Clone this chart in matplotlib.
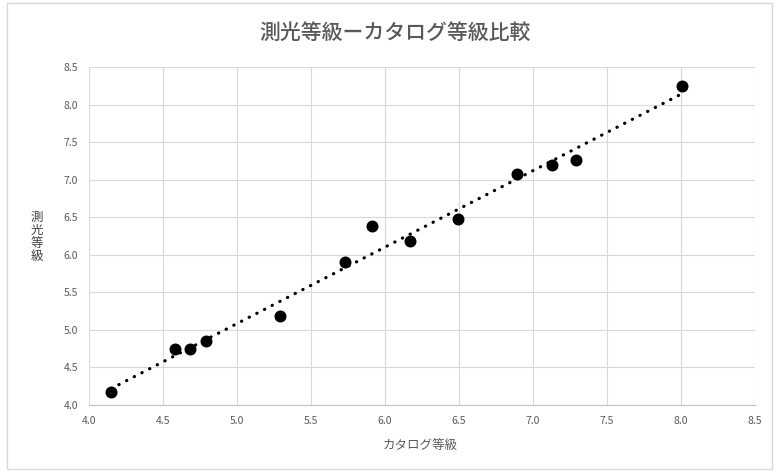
import numpy as np
import matplotlib
matplotlib.use('Agg')
import matplotlib.pyplot as plt
from matplotlib.patches import Rectangle

plt.rcParams['font.family'] = ['Noto Sans CJK JP', 'DejaVu Sans']

# catalog magnitude vs measured (photometric) magnitude
catalog_mag = [4.15, 4.58, 4.68, 4.79, 5.29, 5.73, 5.91, 6.17, 6.49, 6.89, 7.13, 7.29, 8.01]
measured_mag = [4.17, 4.75, 4.75, 4.85, 5.18, 5.90, 6.38, 6.19, 6.47, 7.08, 7.19, 7.26, 8.25]

x_ticks = [4.0, 4.5, 5.0, 5.5, 6.0, 6.5, 7.0, 7.5, 8.0, 8.5]
y_ticks = [4.0, 4.5, 5.0, 5.5, 6.0, 6.5, 7.0, 7.5, 8.0, 8.5]

TEXT = '#595959'
GRID = '#d9d9d9'

fig = plt.figure(figsize=(7.79, 4.72), dpi=100)
fig.patch.set_facecolor('white')
fig.patches.append(Rectangle((7 / 779, 3 / 472), 765 / 779, 466 / 472,
                             transform=fig.transFigure, fill=False,
                             edgecolor=GRID, linewidth=1))

ax = fig.add_axes([89 / 779, 1 - 405 / 472, 666 / 779, 338 / 472])

ax.scatter(catalog_mag, measured_mag, s=58, color='black', zorder=4)

# linear trend line (like Excel's)
k, b = np.polyfit(catalog_mag, measured_mag, 1)
xs = np.array([min(catalog_mag), max(catalog_mag)])
ax.plot(xs, k * xs + b, color='black', linewidth=2.3,
        linestyle=(0, (0.1, 2.6)), dash_capstyle='round', zorder=3)

ax.set_xlim(4.0, 8.5)
ax.set_ylim(4.0, 8.5)
ax.set_xticks(x_ticks)
ax.set_yticks(y_ticks)
ax.set_xticklabels([f'{v:.1f}' for v in x_ticks])
ax.set_yticklabels([f'{v:.1f}' for v in y_ticks])
ax.tick_params(length=0, labelsize=7.5, colors=TEXT, pad=8)
ax.grid(True, color=GRID, linewidth=0.8)
ax.set_axisbelow(True)
for side in ['top', 'right', 'left']:
    ax.spines[side].set_visible(False)
ax.spines['bottom'].set_color('#bfbfbf')

fig.text(395 / 779, 1 - 33 / 472, '測光等級ーカタログ等級比較', ha='center', va='center',
         fontsize=15, color=TEXT, fontweight='medium')
fig.text(420 / 779, 1 - 445 / 472, 'カタログ等級', ha='center', va='center',
         fontsize=9, color=TEXT)
fig.text(37 / 779, 1 - 237 / 472, '測\n光\n等\n級', ha='center', va='center',
         fontsize=9, color='#404040', linespacing=1.0)

fig.savefig('out.png', dpi=100, facecolor='white')
